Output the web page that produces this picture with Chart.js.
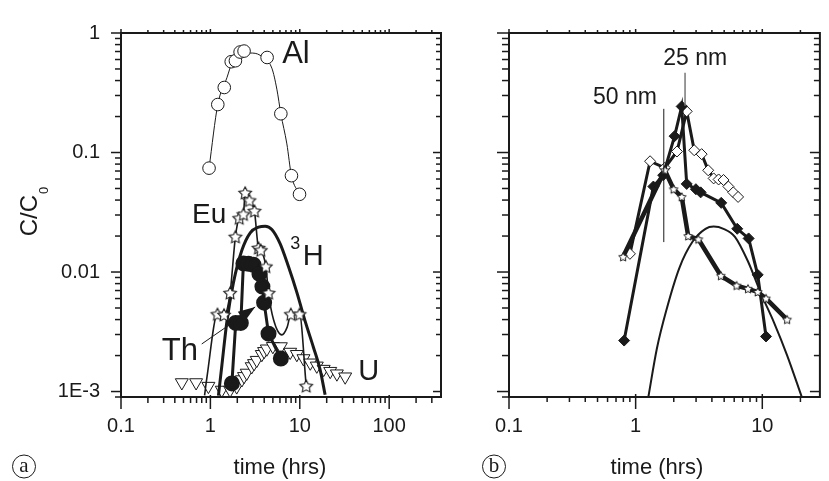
<!DOCTYPE html>
<html><head><meta charset="utf-8">
<script src="https://cdn.jsdelivr.net/npm/chart.js@4/dist/chart.umd.min.js"></script>
<style>
html,body{margin:0;padding:0;background:#fff;width:829px;height:481px;overflow:hidden}
#ca{position:absolute;left:0;top:0}
#cb{position:absolute;left:470px;top:0}
</style></head><body>
<canvas id="ca" width="470" height="481"></canvas>
<canvas id="cb" width="359" height="481"></canvas>
<script>
// ---------- Panel (a) data ----------
const alTime = [0.966, 1.21, 1.43, 1.71, 1.905, 2.15, 2.38, 4.31, 6.14, 8.07, 9.93];
const alConc = [0.074, 0.252, 0.35, 0.575, 0.586, 0.693, 0.706, 0.624, 0.211, 0.064, 0.0447];
const alFitTime = [0.966, 1.21, 1.53, 1.74, 2.15, 2.79, 3.6, 4.87, 5.54, 6.14, 7.17, 8.07, 9.93];
const alFitConc = [0.074, 0.252, 0.422, 0.558, 0.66, 0.68, 0.651, 0.508, 0.339, 0.211, 0.118, 0.064, 0.0447];

const euTime = [1.20, 1.42, 1.66, 1.905, 2.10, 2.34, 2.45, 2.73, 3.11, 3.45, 3.66, 4.17, 4.47, 7.94, 9.93, 11.8];
const euConc = [0.00443, 0.00438, 0.00667, 0.0197, 0.0282, 0.0304, 0.0459, 0.0397, 0.0324, 0.0159, 0.0152, 0.0111, 0.00667, 0.00443, 0.00443, 0.00111];
const euCurveTime = [0.861, 0.918, 1.20, 1.42, 1.66, 1.905, 2.10, 2.34, 2.45, 2.73, 3.11, 3.45, 3.66, 4.17, 4.47, 5.08, 6.3, 7.23, 7.94, 9.93, 11.8];
const euCurveConc = [0.00093, 0.00134, 0.00443, 0.00438, 0.00667, 0.0197, 0.0282, 0.0304, 0.0459, 0.0397, 0.0324, 0.0159, 0.0152, 0.0111, 0.00667, 0.00401, 0.00298, 0.00346, 0.00443, 0.00443, 0.00111];

const thTime = [1.74, 1.92, 2.19, 2.34, 2.67, 3.03, 3.54, 3.82, 3.99, 4.47, 6.14];
const thConc = [0.00117, 0.00375, 0.00375, 0.0118, 0.0117, 0.0115, 0.00964, 0.00756, 0.00554, 0.00305, 0.00189];

const uTime = [0.479, 0.692, 0.95, 1.34, 1.66, 1.97, 2.25, 2.38, 2.55, 2.90, 3.08, 3.30, 3.76, 3.99, 4.28, 5.0, 6.14, 7.81, 9.27, 11.0, 13.1, 15.5, 18.5, 21.9, 26.0, 32.2];
const uConc = [0.00119, 0.00119, 0.00111, 0.00103, 0.00103, 0.0011, 0.00126, 0.00134, 0.00143, 0.00162, 0.00172, 0.00183, 0.00205, 0.00217, 0.00228, 0.00239, 0.00238, 0.00214, 0.00205, 0.00189, 0.00174, 0.00164, 0.00154, 0.00148, 0.00141, 0.00133];

const h3Time = [1.23, 1.34, 1.53, 1.81, 2.25, 2.79, 3.45, 4.10, 4.87, 6.04, 7.47, 9.27, 11.5, 14.2, 16.9, 19.2];
const h3Conc = [0.000925, 0.00162, 0.00386, 0.00815, 0.0152, 0.0213, 0.0237, 0.0242, 0.0227, 0.0172, 0.0111, 0.00676, 0.00386, 0.00235, 0.00152, 0.00094];

// ---------- Panel (b) data ----------
const openDiamondTime = [0.901, 1.30, 1.70, 2.12, 2.53, 2.90, 3.32, 3.74, 4.13, 4.52, 4.94, 5.40, 5.90, 6.44];
const openDiamondConc = [0.0142, 0.0845, 0.0745, 0.102, 0.221, 0.1045, 0.0969, 0.071, 0.0607, 0.0595, 0.0589, 0.0519, 0.0464, 0.0425];
const filledDiamondTime = [0.811, 1.38, 1.65, 2.03, 2.31, 2.53, 2.99, 3.26, 4.74, 6.34, 7.80, 9.2, 10.7];
const filledDiamondConc = [0.00267, 0.0519, 0.0646, 0.137, 0.243, 0.0546, 0.0493, 0.0464, 0.0379, 0.023, 0.0191, 0.00947, 0.00289];
const starBTime = [0.796, 1.70, 1.995, 2.31, 2.60, 3.13, 4.71, 6.27, 7.71, 9.2, 10.7, 15.7];
const starBConc = [0.0134, 0.071, 0.0493, 0.0425, 0.02, 0.0188, 0.0093, 0.0077, 0.00724, 0.00681, 0.006, 0.004];
const modelBTime = [1.26, 1.47, 1.75, 2.22, 2.81, 3.56, 4.13, 4.94, 6.08, 7.70, 9.77, 12.4, 15.7, 20.5];
const modelBConc = [0.0009, 0.00228, 0.00482, 0.0109, 0.0179, 0.023, 0.024, 0.023, 0.0197, 0.0123, 0.00659, 0.00376, 0.00201, 0.0009];

// ---------- Axis ticks ----------
const xTickValsA = [0.1, 1, 10, 100];
const xTickTextA = ['0.1', '1', '10', '100'];
const xTickValsB = [0.1, 1, 10];
const xTickTextB = ['0.1', '1', '10'];
const yTickVals = [0.001, 0.01, 0.1, 1];
const yTickText = ['1E-3', '0.01', '0.1', '1'];

const FONT = '"Liberation Sans", Arial, Helvetica, sans-serif';
const INK = '#1a1a1a';
const pts = (t, c) => t.map((v, i) => ({ x: v, y: c[i] }));
const lookup = (vals, texts) => (v) => {
  const i = vals.findIndex(a => Math.abs(a - v) / a < 1e-6);
  return i < 0 ? '' : texts[i];
};

function starImage(r, lw) {
  const size = Math.ceil(2 * r + 2 * lw + 2);
  const c = document.createElement('canvas');
  c.width = c.height = size;
  const g = c.getContext('2d');
  const cx = size / 2, cy = size / 2 + r * 0.08;
  g.beginPath();
  for (let i = 0; i < 10; i++) {
    const rr = i % 2 ? r * 0.5 : r;
    const a = -Math.PI / 2 + i * Math.PI / 5;
    g.lineTo(cx + rr * Math.cos(a), cy + rr * Math.sin(a));
  }
  g.closePath();
  g.fillStyle = '#fff'; g.fill();
  g.lineWidth = lw; g.strokeStyle = INK; g.stroke();
  return c;
}
const starA = starImage(6.6, 1.1);
const starB = starImage(4.6, 1);

function logTicks(min, max) {
  const out = [];
  for (let e = Math.floor(Math.log10(min)); e <= Math.ceil(Math.log10(max)); e++) {
    for (let k = 1; k <= 9; k++) {
      const v = k * Math.pow(10, e);
      if (v >= min * 0.9999 && v <= max * 1.0001) out.push({ v, major: k === 1 });
    }
  }
  return out;
}

const decor = {
  id: 'decor',
  afterDatasetsDraw(chart, args, o) {
    const { ctx, chartArea: a, scales } = chart;
    const xs = scales.x, ys = scales.y;
    const seg = (x1, y1, x2, y2) => { ctx.beginPath(); ctx.moveTo(x1, y1); ctx.lineTo(x2, y2); ctx.stroke(); };
    ctx.save();
    ctx.strokeStyle = INK;
    ctx.lineWidth = 2;
    ctx.strokeRect(a.left, a.top, a.right - a.left, a.bottom - a.top);
    ctx.lineWidth = 1.5;
    for (const { v, major } of logTicks(xs.min, xs.max)) {
      const p = xs.getPixelForValue(v);
      const b = o.ticks.bottom[major ? 0 : 1];
      seg(p, a.bottom - b[0], p, a.bottom + b[1]);
      const t = o.ticks.top[major ? 0 : 1];
      seg(p, a.top + t[0], p, a.top - t[1]);
    }
    for (const { v, major } of logTicks(ys.min, ys.max)) {
      const p = ys.getPixelForValue(v);
      const l = o.ticks.left[major ? 0 : 1];
      seg(a.left + l[0], p, a.left - l[1], p);
      const r = o.ticks.right[major ? 0 : 1];
      seg(a.right - r[0], p, a.right + r[1], p);
    }
    for (const ln of o.lines) {
      ctx.strokeStyle = ln.color; ctx.fillStyle = ln.color; ctx.lineWidth = ln.width;
      const x1 = xs.getPixelForValue(ln.x1), y1 = ys.getPixelForValue(ln.y1);
      const x2 = xs.getPixelForValue(ln.x2), y2 = ys.getPixelForValue(ln.y2);
      seg(x1, y1, x2, y2);
      if (ln.arrow) {
        const ang = Math.atan2(y2 - y1, x2 - x1), L = 17, W = 6;
        ctx.beginPath();
        ctx.moveTo(x2, y2);
        ctx.lineTo(x2 - L * Math.cos(ang) - W * Math.sin(ang), y2 - L * Math.sin(ang) + W * Math.cos(ang));
        ctx.lineTo(x2 - L * Math.cos(ang) + W * Math.sin(ang), y2 - L * Math.sin(ang) - W * Math.cos(ang));
        ctx.closePath(); ctx.fill();
      }
    }
    ctx.fillStyle = INK;
    ctx.textAlign = 'left'; ctx.textBaseline = 'alphabetic';
    for (const tx of o.texts) {
      ctx.font = tx.size + 'px ' + FONT;
      ctx.fillText(tx.text, xs.getPixelForValue(tx.x), ys.getPixelForValue(tx.y));
    }
    // x-axis title
    ctx.font = o.xTitle.size + 'px ' + FONT;
    ctx.textAlign = 'center'; ctx.textBaseline = 'middle';
    ctx.fillText(o.xTitle.text, o.xTitle.x, o.xTitle.y);
    // y-axis title with subscript
    if (o.yTitle) {
      ctx.save();
      ctx.translate(0, o.yTitle.y);
      ctx.rotate(-Math.PI / 2);
      ctx.textAlign = 'left'; ctx.textBaseline = 'alphabetic';
      ctx.font = o.yTitle.size + 'px ' + FONT;
      const w = ctx.measureText(o.yTitle.main).width;
      ctx.font = o.yTitle.subSize + 'px ' + FONT;
      const w2 = ctx.measureText(o.yTitle.sub).width;
      const start = -(w + w2) / 2;
      ctx.font = o.yTitle.size + 'px ' + FONT;
      ctx.fillText(o.yTitle.main, start, o.yTitle.base);
      ctx.font = o.yTitle.subSize + 'px ' + FONT;
      ctx.fillText(o.yTitle.sub, start + w + 1, o.yTitle.subBase);
      ctx.restore();
    }
    // panel letter in circle
    ctx.lineWidth = 1;
    ctx.strokeStyle = INK;
    ctx.beginPath(); ctx.arc(o.panel.x, o.panel.y, 11.5, 0, Math.PI * 2); ctx.stroke();
    ctx.font = '21px "Liberation Serif", "DejaVu Serif", serif';
    ctx.textAlign = 'center'; ctx.textBaseline = 'middle';
    ctx.fillText(o.panel.letter, o.panel.x, o.panel.y);
    ctx.restore();
  }
};

function scalesFor(xMax, xVals, xText, yLabels, yWidth) {
  return {
    x: {
      type: 'logarithmic', min: 0.1, max: xMax, bounds: 'data',
      grid: { display: false, drawTicks: false }, border: { display: false },
      afterBuildTicks: s => { s.ticks = xVals.map(v => ({ value: v })); },
      afterFit: s => { s.height = 84; },
      ticks: { autoSkip: false, maxRotation: 0, minRotation: 0, padding: 17, color: INK,
        font: { family: FONT, size: 20 }, callback: lookup(xVals, xText) }
    },
    y: {
      type: 'logarithmic', min: 0.0009, max: 1, bounds: 'data',
      grid: { display: false, drawTicks: false }, border: { display: false },
      afterBuildTicks: s => { s.ticks = yTickVals.map(v => ({ value: v })); },
      afterFit: s => { s.width = yWidth; },
      ticks: { autoSkip: false, padding: 21, color: INK, font: { family: FONT, size: 20 },
        callback: yLabels ? lookup(yTickVals, yTickText) : () => '' }
    }
  };
}

const common = {
  responsive: false, devicePixelRatio: 1, animation: false,
  events: [],
};

// ---------- Chart (a) ----------
new Chart(document.getElementById('ca'), {
  type: 'scatter',
  data: {
    datasets: [
      { data: pts(alFitTime, alFitConc), showLine: true, pointRadius: 0, borderColor: INK, borderWidth: 1, cubicInterpolationMode: 'monotone', order: 10 },
      { data: pts(alTime, alConc), showLine: false, pointStyle: 'circle', pointRadius: 6.3, pointBackgroundColor: '#fff', pointBorderColor: INK, pointBorderWidth: 1, order: 9 },
      { data: pts(uTime, uConc), showLine: false, pointStyle: 'triangle', rotation: 180, pointRadius: 7.5, pointBackgroundColor: '#fff', pointBorderColor: INK, pointBorderWidth: 1, order: 8 },
      { data: pts(h3Time, h3Conc), showLine: true, pointRadius: 0, borderColor: INK, borderWidth: 3, cubicInterpolationMode: 'monotone', order: 7 },
      { data: pts(euCurveTime, euCurveConc), showLine: true, pointRadius: 0, borderColor: INK, borderWidth: 1.6, cubicInterpolationMode: 'monotone', order: 6 },
      { data: pts(thTime, thConc), showLine: true, borderColor: INK, borderWidth: 3, pointStyle: 'circle', pointRadius: 6.5, pointBackgroundColor: INK, pointBorderColor: INK, order: 5 },
      { data: pts(euTime, euConc), showLine: false, pointStyle: starA, pointRadius: 6.6, order: 4 }
    ]
  },
  options: Object.assign({}, common, {
    layout: { padding: { left: 0, right: 29, top: 22, bottom: 0 } },
    scales: scalesFor(380, xTickValsA, xTickTextA, true, 121),
    plugins: {
      legend: { display: false }, tooltip: { enabled: false },
      decor: {
        ticks: { left: [[0, 10], [0, 6]], right: [[8, 0], [5, 0]], bottom: [[2, 12], [0, 6]], top: [[0, 4], [0, 3]] },
        texts: [
          { text: 'Al', x: 6.35, y: 0.558, size: 31 },
          { text: 'Eu', x: 0.624, y: 0.0257, size: 28 },
          { text: '3', x: 7.81, y: 0.0156, size: 18 },
          { text: 'H', x: 10.8, y: 0.01146, size: 29 },
          { text: 'Th', x: 0.286, y: 0.00183, size: 31 },
          { text: 'U', x: 45.1, y: 0.00126, size: 29 }
        ],
        lines: [
          { x1: 0.8, y1: 0.0025, x2: 3.17, y2: 0.0051, color: INK, width: 1, arrow: true }
        ],
        xTitle: { text: 'time (hrs)', x: 280, y: 468, size: 22 },
        yTitle: { main: 'C/C', sub: '0', y: 212, base: 37, subBase: 48, size: 24, subSize: 13 },
        panel: { letter: 'a', x: 24, y: 466.5 }
      }
    }
  }),
  plugins: [decor]
});

// ---------- Chart (b) ----------
new Chart(document.getElementById('cb'), {
  type: 'scatter',
  data: {
    datasets: [
      { data: pts(modelBTime, modelBConc), showLine: true, pointRadius: 0, borderColor: INK, borderWidth: 2, cubicInterpolationMode: 'monotone', order: 10 },
      { data: pts(openDiamondTime, openDiamondConc), showLine: true, borderColor: INK, borderWidth: 3, pointStyle: 'rectRot', pointRadius: 5.5, pointBackgroundColor: '#fff', pointBorderColor: INK, pointBorderWidth: 1, order: 8 },
      { data: pts(filledDiamondTime, filledDiamondConc), showLine: true, borderColor: INK, borderWidth: 3, pointStyle: 'rectRot', pointRadius: 5.5, pointBackgroundColor: INK, pointBorderColor: INK, pointBorderWidth: 1, order: 7 },
      { data: pts(starBTime, starBConc), showLine: true, borderColor: INK, borderWidth: 4.5, pointStyle: starB, pointRadius: 4.6, order: 6 }
    ]
  },
  options: Object.assign({}, common, {
    layout: { padding: { left: 0, right: 2, top: 22, bottom: 0 } },
    scales: scalesFor(28.5, xTickValsB, xTickTextB, false, 39),
    plugins: {
      legend: { display: false }, tooltip: { enabled: false },
      decor: {
        ticks: { left: [[0, 12], [0, 7]], right: [[10, 0], [6, 0]], bottom: [[3, 12], [0, 5]], top: [[0, 4], [0, 3]] },
        texts: [
          { text: '25 nm', x: 1.65, y: 0.541, size: 23 },
          { text: '50 nm', x: 0.461, y: 0.255, size: 23 }
        ],
        lines: [
          { x1: 2.455, y1: 0.465, x2: 2.455, y2: 0.246, color: '#777', width: 1.5 },
          { x1: 1.668, y1: 0.232, x2: 1.668, y2: 0.0178, color: INK, width: 1 }
        ],
        xTitle: { text: 'time (hrs)', x: 187, y: 468, size: 22 },
        yTitle: null,
        panel: { letter: 'b', x: 24, y: 466.5 }
      }
    }
  }),
  plugins: [decor]
});
</script>
</body></html>
